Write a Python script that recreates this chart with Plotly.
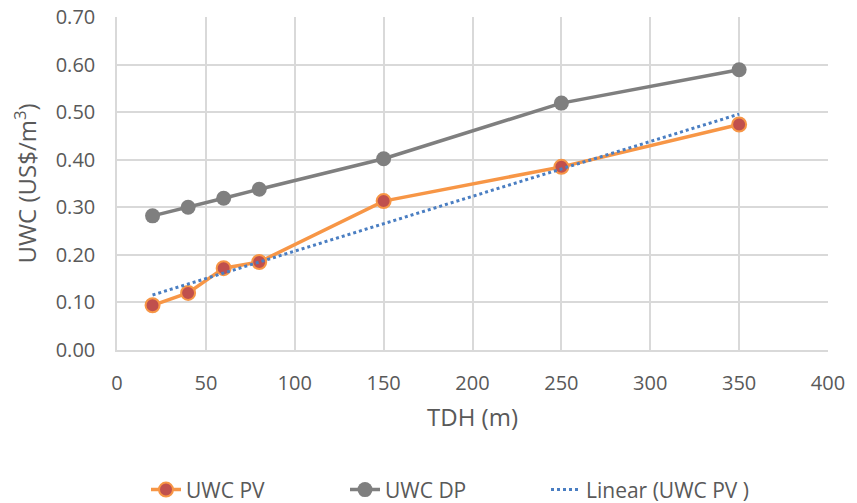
import numpy as np
import plotly.graph_objects as go

tdh = [20, 40, 60, 80, 150, 250, 350]
uwc_pv = [0.094, 0.120, 0.172, 0.185, 0.313, 0.385, 0.474]
uwc_dp = [0.282, 0.300, 0.319, 0.338, 0.402, 0.519, 0.589]
x_ticks = [0, 50, 100, 150, 200, 250, 300, 350, 400]
y_ticks = [0.0, 0.1, 0.2, 0.3, 0.4, 0.5, 0.6, 0.7]

slope, intercept = np.polyfit(tdh, uwc_pv, 1)
trend_x = [tdh[0], tdh[-1]]
trend_y = [slope * v + intercept for v in trend_x]

font = "Open Sans"
fs = 20
grey = "#595959"
fig = go.Figure()
fig.add_trace(go.Scatter(
    x=tdh, y=uwc_pv, name="UWC PV", mode="lines+markers", legend="legend",
    line=dict(color="#F79646", width=3.5),
    marker=dict(size=14, color="#C0504D", line=dict(color="#F79646", width=2)),
))
fig.add_trace(go.Scatter(
    x=tdh, y=uwc_dp, name="UWC DP", mode="lines+markers", legend="legend2",
    line=dict(color="#7F7F7F", width=3.5),
    marker=dict(size=15, color="#7F7F7F"),
))
fig.add_trace(go.Scatter(
    x=trend_x, y=trend_y, name="Linear (UWC PV )", mode="lines", legend="legend3",
    line=dict(color="#4A7EC2", width=3, dash="dot"),
))

def leg(px):
    return dict(x=(px - 117) / 711, xanchor="left", y=0.026, yanchor="middle",
                yref="container", font=dict(size=21, color=grey),
                bgcolor="rgba(0,0,0,0)", orientation="h")

fig.update_layout(
    width=857, height=503,
    margin=dict(l=117, r=29, t=17, b=153, autoexpand=False),
    paper_bgcolor="white", plot_bgcolor="white",
    font=dict(family=font, size=fs, color=grey),
    showlegend=True,
    legend=leg(146),
    legend2=leg(345),
    legend3=leg(546),
)
fig.update_xaxes(
    range=[0, 400], tickvals=x_ticks, ticktext=[str(v) for v in x_ticks],
    showgrid=True, gridcolor="#D9D9D9", gridwidth=1.5,
    showline=True, linecolor="#D9D9D9", linewidth=1.5,
    zeroline=False, ticks="", ticklabelstandoff=14,
    tickfont=dict(size=fs, color=grey),
    title=dict(text="TDH (m)", standoff=14, font=dict(size=24, color=grey)),
)
fig.update_yaxes(
    range=[0, 0.7], tickvals=y_ticks, ticktext=[f"{v:.2f}" for v in y_ticks],
    showgrid=True, gridcolor="#D9D9D9", gridwidth=1.5,
    showline=True, linecolor="#D9D9D9", linewidth=1.5,
    zeroline=False, ticks="", ticklabelstandoff=16,
    tickfont=dict(size=fs, color=grey),
    title=dict(text="UWC (US$/m<sup>3</sup>)", standoff=12, font=dict(size=24, color=grey)),
)

fig.write_html("out.html")
